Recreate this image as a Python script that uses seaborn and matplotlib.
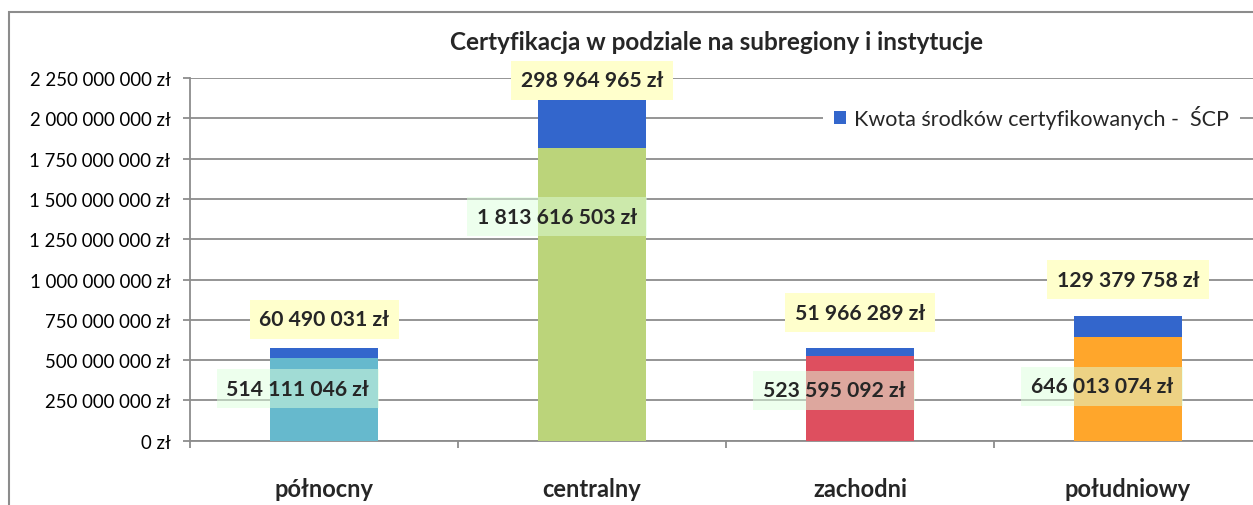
import matplotlib
matplotlib.use("Agg")
import matplotlib.pyplot as plt
import matplotlib.ticker as mticker
from matplotlib.patches import Patch, Rectangle
import pandas as pd
import seaborn as sns

# data
regions = ["północny", "centralny", "zachodni", "południowy"]
base_values = [514111046, 1813616503, 523595092, 646013074]
scp_values = [60490031, 298964965, 51966289, 129379758]
base_colors = ["#66B9CD", "#BBD47A", "#DE4F5F", "#FFA62B"]
scp_color = "#3366CC"
legend_label = "Kwota środków certyfikowanych -  ŚCP"
title = "Certyfikacja w podziale na subregiony i instytucje"

# label placement (layout only)
top_label_offset_px = [29, 20, 35, 36]
bottom_label_y = [321e6, 1388e6, 314e6, 339e6]

sns.set_theme(style="white")
plt.rcParams["font.family"] = ["Lato", "DejaVu Sans"]

df = pd.DataFrame({
    "region": regions,
    "base": base_values,
    "total": [b + s for b, s in zip(base_values, scp_values)],
})

W, H = 1253, 506
fig = plt.figure(figsize=(W / 100, H / 100), dpi=100)
ax = fig.add_axes([190 / W, (H - 441.7) / H, 1072 / W, 362.7 / H])

bar_w = 0.403
# full stack in blue, then the base part drawn on top of it
sns.barplot(data=df, x="region", y="total", color=scp_color, width=bar_w,
            saturation=1, linewidth=0, ax=ax, zorder=2)
sns.barplot(data=df, x="region", y="base", hue="region", palette=base_colors,
            legend=False, width=bar_w, saturation=1, linewidth=0, ax=ax,
            zorder=3)

ax.set_xlim(-0.5, 3.5)
ax.set_ylim(0, 2250e6)
ax.yaxis.set_major_locator(mticker.MultipleLocator(250e6))
ax.yaxis.set_major_formatter(mticker.FuncFormatter(
    lambda v, p: f"{int(round(v)):,}".replace(",", " ") + " zł"))
ax.grid(axis="y", color="#8c8c8c", linewidth=1.3, zorder=0)
ax.set_axisbelow(True)
for side in ["top", "right"]:
    ax.spines[side].set_visible(False)
for side in ["left", "bottom"]:
    ax.spines[side].set_color("#8c8c8c")
    ax.spines[side].set_linewidth(1.3)

ax.tick_params(axis="y", which="major", left=True, length=5, width=1.3,
               color="#8c8c8c", labelsize=13.4, pad=9, labelcolor="black")
ax.set_xticks(range(len(regions)))
ax.set_xticklabels(regions, fontsize=17, fontweight="bold")
ax.tick_params(axis="x", which="major", bottom=False, pad=20)
ax.set_xticks([-0.5, 0.5, 1.5, 2.5, 3.5], minor=True)
ax.tick_params(axis="x", which="minor", bottom=True, length=5, width=1.3,
               color="#8c8c8c")
ax.set_xlabel("")
ax.set_ylabel("")

for i in range(len(regions)):
    total = base_values[i] + scp_values[i]
    ax.annotate(f"{scp_values[i]:,} zł".replace(",", " "),
                xy=(i, total), xytext=(0, top_label_offset_px[i]),
                textcoords="offset pixels", ha="center", va="center",
                fontsize=15.2, fontweight="bold", zorder=6,
                bbox=dict(boxstyle="square,pad=0.45", facecolor="#FFFFCC",
                          edgecolor="none"))
    ax.annotate(f"{base_values[i]:,} zł".replace(",", " "),
                xy=(i + bar_w / 2, bottom_label_y[i]), xytext=(-9, 0),
                textcoords="offset pixels", ha="right", va="center",
                fontsize=15.2, fontweight="bold", zorder=6,
                bbox=dict(boxstyle="square,pad=0.45", facecolor="#DDFFDD",
                          alpha=0.5, edgecolor="none"))

fig.text(716 / W, 1 - 43 / H, title, ha="center", va="center",
         fontsize=17.5, fontweight="bold")

handle = Patch(facecolor=scp_color, edgecolor="none")
fig.legend([handle], [legend_label], loc="center left",
           bbox_to_anchor=(812 / W, 1 - 118 / H), frameon=True,
           facecolor="white", edgecolor="none", framealpha=1,
           fontsize=15.5, handlelength=0.6, handleheight=0.6,
           handletextpad=0.35, borderpad=0.5, fancybox=False)

fig.patches.append(Rectangle((8.5 / W, -0.1), 1.2, 1.1 - 12.5 / H,
                             transform=fig.transFigure, fill=False,
                             edgecolor="#8c8c8c", linewidth=1.5))

fig.savefig("out.png", dpi=100)
